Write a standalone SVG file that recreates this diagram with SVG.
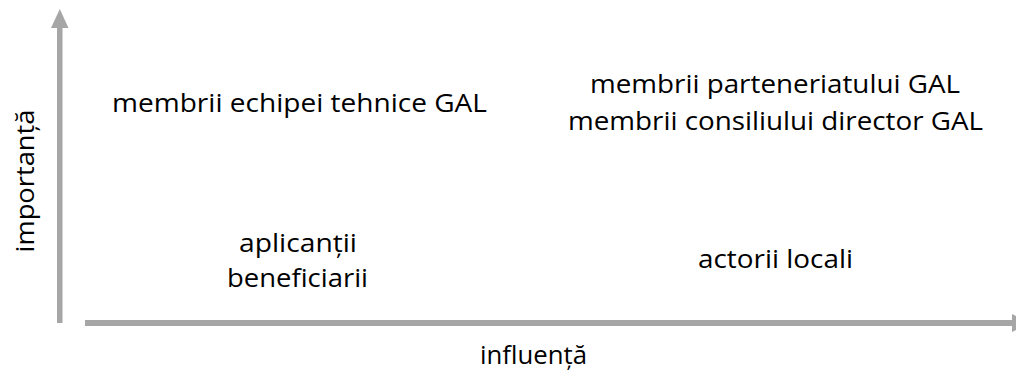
<svg xmlns="http://www.w3.org/2000/svg" width="1016" height="370" viewBox="0 0 1016 370">
<style>
text{font-family:"Open Sans","Noto Sans","Liberation Sans",sans-serif;font-size:25.5px;fill:#000;text-anchor:middle}
.ax{fill:#a6a6a6}
</style>
<rect width="1016" height="370" fill="#fff"/>
<g id="connectors">
<g id="axis-y"><rect class="ax" x="57" y="27" width="5.5" height="296"/><polygon class="ax" points="51,28 68.5,28 59.8,9"/></g>
<g id="axis-x"><rect class="ax" x="85" y="320" width="928" height="6"/><polygon class="ax" points="1012,314 1012,332 1030,323"/></g>
</g>
<g id="label-y"><text transform="translate(34,181) rotate(-90)" textLength="143" lengthAdjust="spacingAndGlyphs">importanță</text></g>
<g id="label-x"><text x="533.5" y="364" textLength="107" lengthAdjust="spacingAndGlyphs">influență</text></g>
<g id="q1"><text x="299.5" y="112" textLength="375" lengthAdjust="spacingAndGlyphs">membrii echipei tehnice GAL</text></g>
<g id="q2"><text x="775" y="93" textLength="370" lengthAdjust="spacingAndGlyphs">membrii parteneriatului GAL</text><text x="775.5" y="130" textLength="415" lengthAdjust="spacingAndGlyphs">membrii consiliului director GAL</text></g>
<g id="q3"><text x="298" y="252" textLength="118" lengthAdjust="spacingAndGlyphs">aplicanții</text><text x="297.5" y="287" textLength="141" lengthAdjust="spacingAndGlyphs">beneficiarii</text></g>
<g id="q4"><text x="775.5" y="268" textLength="155" lengthAdjust="spacingAndGlyphs">actorii locali</text></g>
</svg>
